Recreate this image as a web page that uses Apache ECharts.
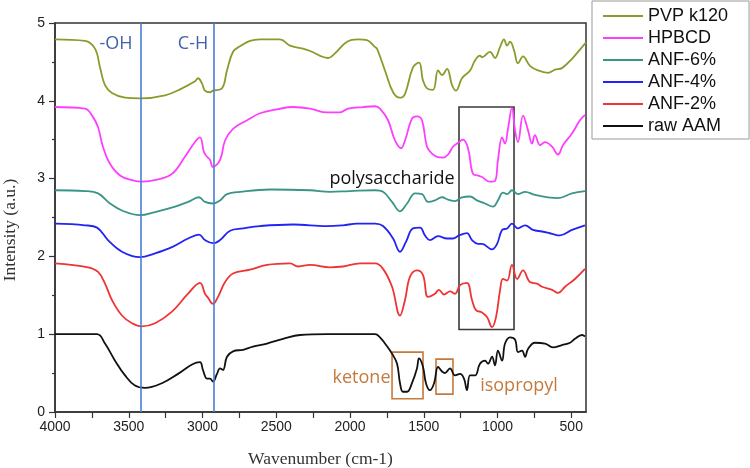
<!DOCTYPE html>
<html>
<head>
<meta charset="utf-8">
<script src="https://cdn.jsdelivr.net/npm/echarts@6/dist/echarts.min.js"></script>
<style>
  html, body { margin: 0; padding: 0; background: #fff; }
  #chart { width: 750px; height: 468px; }
</style>
</head>
<body>
<div id="chart"></div>
<script>
// [wavenumber, intensity]
const pvpK120 = [[4000,4.79],[3797,4.77],[3729,4.67],[3695,4.43],[3661,4.20],[3614,4.10],[3525,4.04],[3424,4.03],[3254,4.07],[3139,4.16],[3051,4.25],[3030,4.29],[3003,4.22],[2983,4.13],[2949,4.11],[2929,4.13],[2868,4.16],[2834,4.39],[2793,4.63],[2746,4.70],[2678,4.77],[2610,4.79],[2475,4.79],[2407,4.71],[2319,4.67],[2271,4.64],[2149,4.55],[2102,4.61],[2020,4.76],[1946,4.79],[1885,4.78],[1830,4.69],[1817,4.67],[1763,4.39],[1708,4.11],[1661,4.04],[1627,4.09],[1573,4.43],[1532,4.49],[1505,4.26],[1478,4.16],[1437,4.14],[1403,4.39],[1376,4.33],[1342,4.41],[1308,4.20],[1281,4.13],[1241,4.29],[1186,4.39],[1152,4.52],[1119,4.58],[1105,4.56],[1051,4.63],[1017,4.55],[983,4.69],[956,4.79],[935,4.71],[915,4.76],[888,4.65],[861,4.48],[827,4.57],[780,4.45],[725,4.39],[658,4.36],[610,4.40],[563,4.42],[495,4.54],[427,4.69],[400,4.75]]
const hpbcd = [[4000,3.92],[3797,3.90],[3742,3.79],[3708,3.66],[3675,3.41],[3627,3.19],[3559,3.04],[3478,2.98],[3410,2.96],[3302,2.99],[3207,3.06],[3119,3.28],[3051,3.47],[3017,3.53],[2990,3.34],[2969,3.28],[2949,3.24],[2929,3.15],[2881,3.24],[2847,3.49],[2793,3.64],[2698,3.75],[2610,3.84],[2495,3.89],[2386,3.92],[2271,3.90],[2156,3.85],[2068,3.85],[2013,3.90],[1912,3.92],[1830,3.93],[1797,3.90],[1742,3.75],[1695,3.49],[1654,3.39],[1627,3.49],[1580,3.77],[1546,3.80],[1512,3.75],[1478,3.41],[1444,3.32],[1410,3.28],[1369,3.27],[1335,3.31],[1302,3.41],[1274,3.45],[1234,3.50],[1200,3.39],[1166,3.06],[1132,3.04],[1105,3.02],[1051,2.96],[1017,2.97],[997,3.24],[969,3.53],[949,3.45],[929,3.64],[902,3.91],[881,3.62],[861,3.47],[827,3.81],[793,3.62],[766,3.45],[746,3.56],[712,3.43],[678,3.47],[630,3.41],[590,3.31],[556,3.43],[495,3.58],[441,3.75],[407,3.82]]
const anf6 = [[4000,2.85],[3797,2.84],[3708,2.81],[3627,2.68],[3546,2.59],[3424,2.53],[3322,2.57],[3186,2.64],[3098,2.70],[3024,2.76],[2983,2.70],[2929,2.68],[2881,2.72],[2834,2.80],[2746,2.83],[2542,2.86],[2271,2.85],[2136,2.83],[2000,2.84],[1830,2.85],[1776,2.83],[1715,2.70],[1661,2.58],[1613,2.68],[1559,2.81],[1512,2.80],[1471,2.70],[1424,2.72],[1376,2.76],[1335,2.73],[1288,2.71],[1241,2.76],[1186,2.77],[1139,2.72],[1085,2.68],[1030,2.64],[997,2.72],[963,2.82],[935,2.80],[902,2.85],[861,2.80],[813,2.83],[746,2.79],[658,2.76],[590,2.75],[495,2.81],[407,2.84]]
const anf4 = [[4000,2.42],[3797,2.40],[3715,2.37],[3641,2.21],[3546,2.06],[3424,1.99],[3322,2.04],[3207,2.12],[3098,2.23],[3024,2.28],[2983,2.21],[2929,2.17],[2881,2.21],[2813,2.33],[2725,2.36],[2610,2.39],[2386,2.41],[2156,2.39],[2047,2.40],[1952,2.42],[1830,2.42],[1776,2.39],[1708,2.23],[1661,2.06],[1620,2.19],[1573,2.36],[1525,2.37],[1492,2.27],[1458,2.21],[1403,2.26],[1342,2.23],[1302,2.23],[1261,2.27],[1207,2.30],[1173,2.21],[1132,2.16],[1105,2.16],[1037,2.09],[1003,2.16],[969,2.34],[935,2.36],[902,2.42],[861,2.36],[813,2.40],[759,2.34],[698,2.32],[630,2.29],[576,2.27],[495,2.34],[407,2.40]]
const anf2 = [[4000,1.91],[3776,1.86],[3708,1.80],[3661,1.65],[3614,1.44],[3546,1.24],[3478,1.14],[3410,1.10],[3322,1.14],[3207,1.29],[3098,1.52],[3017,1.66],[2983,1.52],[2963,1.47],[2929,1.39],[2895,1.48],[2847,1.67],[2793,1.78],[2678,1.83],[2563,1.89],[2407,1.91],[2352,1.87],[2271,1.89],[2136,1.86],[2047,1.87],[1932,1.91],[1830,1.91],[1776,1.84],[1715,1.61],[1661,1.24],[1627,1.44],[1593,1.74],[1546,1.82],[1505,1.76],[1471,1.48],[1424,1.52],[1397,1.57],[1363,1.51],[1322,1.55],[1288,1.52],[1254,1.63],[1207,1.66],[1173,1.44],[1146,1.31],[1105,1.28],[1071,1.22],[1037,1.09],[1010,1.22],[983,1.56],[963,1.71],[935,1.69],[902,1.89],[867,1.71],[827,1.82],[780,1.67],[732,1.65],[698,1.61],[630,1.57],[590,1.53],[542,1.61],[475,1.71],[407,1.84]]
const rawAAM = [[4000,1.00],[3715,1.00],[3661,0.88],[3593,0.66],[3525,0.47],[3458,0.34],[3390,0.31],[3275,0.37],[3166,0.49],[3071,0.61],[3017,0.64],[2997,0.54],[2969,0.43],[2949,0.43],[2929,0.39],[2902,0.49],[2881,0.56],[2861,0.54],[2834,0.71],[2793,0.78],[2725,0.80],[2658,0.84],[2563,0.88],[2454,0.94],[2339,0.99],[2156,1.00],[1830,1.00],[1797,0.96],[1763,0.88],[1715,0.75],[1681,0.62],[1661,0.37],[1641,0.26],[1613,0.26],[1580,0.37],[1546,0.56],[1532,0.69],[1505,0.58],[1485,0.37],[1458,0.28],[1430,0.37],[1403,0.58],[1376,0.52],[1356,0.50],[1322,0.56],[1288,0.47],[1254,0.49],[1227,0.43],[1207,0.28],[1186,0.47],[1152,0.47],[1119,0.62],[1085,0.66],[1064,0.62],[1037,0.71],[1017,0.60],[997,0.79],[969,0.66],[949,0.88],[915,0.96],[881,0.93],[861,0.77],[834,0.79],[813,0.71],[793,0.81],[746,0.89],[678,0.88],[624,0.83],[563,0.86],[508,0.89],[475,0.94],[427,0.99],[407,0.97]]

const seriesNames = ['PVP k120', 'HPBCD', 'ANF-6%', 'ANF-4%', 'ANF-2%', 'raw AAM']
const xLabelValues = [500, 1000, 1500, 2000, 2500, 3000, 3500, 4000]
const xTickValues = [500, 750, 1000, 1250, 1500, 1750, 2000, 2250, 2500, 2750, 3000, 3250, 3500, 3750, 4000]

// band markers: -OH and C-H
const bandLines = [3420, 2925]
// annotation boxes [x1, y1, x2, y2]
const polyBox = [1261, 3.92, 888, 1.06]
const ketoneBox = [1715, 0.77, 1505, 0.17]
const isoBox = [1417, 0.68, 1302, 0.23]
// annotation texts [text, x, y, colour]
const notes = [
  ['-OH', 3586, 4.73, '#4262a8'],
  ['C-H', 3064, 4.73, '#4262a8'],
  ['polysaccharide', 1715, 3.0, '#111111'],
  ['ketone', 1922, 0.44, '#c47a3c'],
  ['isopropyl', 854, 0.33, '#c47a3c'],
]

const colors = ['#8c9a2c', '#ff3dff', '#3a9488', '#2323f2', '#ee3434', '#111111']
const dataList = [pvpK120, hpbcd, anf6, anf4, anf2, rawAAM]

const chart = echarts.init(document.getElementById('chart'))

const series = seriesNames.map((name, i) => ({
  name: name,
  type: 'line',
  data: dataList[i],
  symbol: 'none',
  smooth: 0.4,
  lineStyle: { width: 1.8, color: colors[i] },
  itemStyle: { color: colors[i] },
  silent: true,
}))

const boxStyle = (c) => ({ color: 'rgba(0,0,0,0)', borderColor: c, borderWidth: 1.6 })
const lastSeries = series[series.length - 1]
lastSeries.markLine = {
  silent: true,
  symbol: 'none',
  label: { show: false },
  lineStyle: { color: '#4a7fd6', width: 1.6, type: 'solid' },
  data: bandLines.map(v => ({ xAxis: v })),
}
lastSeries.markArea = {
  silent: true,
  label: { show: false },
  data: [
    [{ coord: [polyBox[0], polyBox[1]], itemStyle: boxStyle('#3a3a3a') }, { coord: [polyBox[2], polyBox[3]] }],
    [{ coord: [ketoneBox[0], ketoneBox[1]], itemStyle: boxStyle('#c47a3c') }, { coord: [ketoneBox[2], ketoneBox[3]] }],
    [{ coord: [isoBox[0], isoBox[1]], itemStyle: boxStyle('#c47a3c') }, { coord: [isoBox[2], isoBox[3]] }],
  ],
}
lastSeries.markPoint = {
  silent: true,
  symbol: 'circle',
  symbolSize: 1,
  itemStyle: { color: 'rgba(0,0,0,0)' },
  data: notes.map(n => ({
    name: n[0],
    coord: [n[1], n[2]],
    label: {
      show: true,
      position: 'inside',
      formatter: '{b}',
      color: n[3],
      fontSize: 18,
      fontFamily: 'Open Sans',
    },
  })),
}

const option = {
  animation: false,
  backgroundColor: '#ffffff',
  grid: {
    left: 55,
    right: 164,
    top: 23,
    bottom: 56,
    outerBoundsMode: 'none',
    containLabel: false,
    show: true,
    borderColor: '#333',
    borderWidth: 1.5,
  },
  legend: {
    data: seriesNames,
    orient: 'vertical',
    left: 592,
    top: 1,
    padding: [6, 21, 4, 11],
    itemGap: 4,
    itemWidth: 40,
    itemHeight: 2,
    icon: 'rect',
    borderColor: '#999',
    borderWidth: 1,
    textStyle: { fontFamily: 'Liberation Sans', fontSize: 18, color: '#111', lineHeight: 18 },
  },
  xAxis: {
    type: 'value',
    inverse: true,
    min: 400,
    max: 4000,
    name: 'Wavenumber (cm-1)',
    nameLocation: 'middle',
    nameGap: 38,
    nameTextStyle: { fontFamily: 'Liberation Serif', fontSize: 17.5, color: '#333' },
    axisLine: { show: true, lineStyle: { color: '#333', width: 1.5 } },
    axisTick: { show: true, length: 6, customValues: xTickValues, lineStyle: { color: '#333', width: 1.2 } },
    axisLabel: {
      customValues: xLabelValues,
      formatter: v => String(v),
      fontFamily: 'Liberation Sans',
      fontSize: 14,
      color: '#222',
      margin: 8,
    },
    splitLine: { show: false },
  },
  yAxis: {
    type: 'value',
    min: 0,
    max: 5,
    interval: 1,
    name: 'Intensity (a.u.)',
    nameLocation: 'middle',
    nameGap: 36,
    nameTextStyle: { fontFamily: 'Liberation Serif', fontSize: 17.5, color: '#333', padding: [0, 25, 0, 0] },
    axisLine: { show: true, lineStyle: { color: '#333', width: 1.5 } },
    axisTick: { show: true, length: 6, lineStyle: { color: '#333', width: 1.2 } },
    minorTick: { show: true, splitNumber: 2, length: 3, lineStyle: { color: '#333', width: 1.2 } },
    axisLabel: { fontFamily: 'Liberation Sans', fontSize: 14, color: '#222', margin: 10 },
    splitLine: { show: false },
  },
  series: series,
}

chart.setOption(option)
</script>
</body>
</html>
